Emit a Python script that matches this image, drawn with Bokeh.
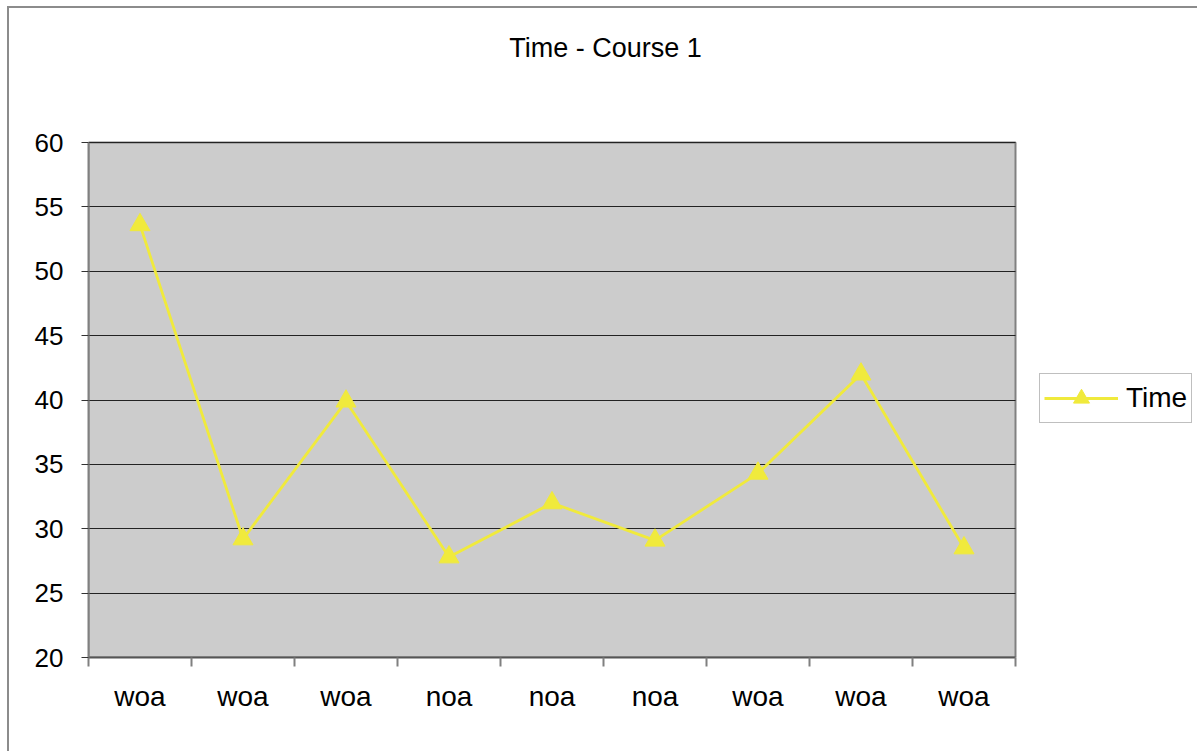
from bokeh.plotting import figure
from bokeh.models import FixedTicker, Legend, LegendItem, Range1d, ColumnDataSource, Label
from bokeh.embed import file_html
from bokeh.resources import INLINE

categories = ["woa", "woa", "woa", "noa", "noa", "noa", "woa", "woa", "woa"]
time_values = [53.6, 29.2, 39.9, 27.8, 32.0, 29.1, 34.3, 42.0, 28.5]
y_ticks = [20, 25, 30, 35, 40, 45, 50, 55, 60]
title_text = "Time - Course 1"

FONT = "Liberation Sans"
YELLOW = "#F0EA3C"

n = len(categories)
xs = [i + 0.5 for i in range(n)]
src = ColumnDataSource(dict(x=xs, y=time_values))

# geometry (pixels)
W, H = 1190, 745
LEFT, BOTTOM = 79, 96
PLOT_W, PLOT_H = 927, 515           # size of the grey plot area
FRAME_W, FRAME_H = W - LEFT, H - BOTTOM
ymin, ymax = y_ticks[0], y_ticks[-1]

p = figure(width=W, height=H, output_backend="svg", toolbar_location=None,
           x_range=Range1d(0, n * FRAME_W / PLOT_W),
           y_range=Range1d(ymin, ymin + (ymax - ymin) * FRAME_H / PLOT_H),
           min_border_left=LEFT, min_border_top=0, min_border_right=0,
           min_border_bottom=BOTTOM)
p.styles = {"margin-left": "7px", "margin-top": "6px",
            "border-left": "2px solid #8c8c8c", "border-top": "2px solid #8c8c8c"}

p.background_fill_color = "white"
p.border_fill_color = "white"
p.outline_line_color = None

bg = p.quad(left=0, right=n, bottom=ymin, top=ymax, fill_color="#CCCCCC",
            line_color="#808080", line_width=2)
bg.level = "image"

line = p.line("x", "y", source=src, line_color=YELLOW, line_width=2.8)
marks = p.scatter("x", "y", source=src, marker="triangle", size=20,
                  fill_color=YELLOW, line_color=YELLOW)

# x axis: labels at category centers, tick marks (minor) at category boundaries
p.xaxis.ticker = FixedTicker(ticks=xs, minor_ticks=list(range(n + 1)))
p.xaxis.bounds = (0, n)
p.xaxis.major_label_overrides = {x: c for x, c in zip(xs, categories)}
p.xaxis.major_label_text_font = FONT
p.xaxis.major_label_text_font_size = "28px"
p.xaxis.major_label_text_color = "black"
p.xaxis.major_label_standoff = 14
p.xaxis.axis_line_color = "#555555"
p.xaxis.axis_line_width = 2
p.xaxis.major_tick_line_color = None
p.xaxis.minor_tick_line_color = "#808080"
p.xaxis.minor_tick_line_width = 2
p.xaxis.minor_tick_in = 0
p.xaxis.minor_tick_out = 9

p.yaxis.ticker = FixedTicker(ticks=y_ticks)
p.yaxis.bounds = (ymin, ymax)
p.yaxis.major_label_text_font = FONT
p.yaxis.major_label_text_font_size = "26px"
p.yaxis.major_label_text_color = "black"
p.yaxis.major_label_standoff = 18
p.yaxis.axis_line_color = "#808080"
p.yaxis.axis_line_width = 2
p.yaxis.major_tick_line_color = "#333333"
p.yaxis.major_tick_in = 0
p.yaxis.major_tick_out = 7
p.yaxis.minor_tick_line_color = None

p.xgrid.grid_line_color = None
p.ygrid.grid_line_color = "#222222"
p.ygrid.grid_line_width = 1
p.ygrid.bounds = (ymin, ymax)
p.ygrid.cross_bounds = (0, n)

title = Label(x=517, y=610, x_units="screen", y_units="screen", text=title_text,
              text_font=FONT, text_font_size="27px", text_color="black",
              text_align="center", text_baseline="middle")
p.add_layout(title)

legend = Legend(items=[LegendItem(label="Time", renderers=[line, marks])],
                location=(951, 234), orientation="vertical",
                label_text_font=FONT, label_text_font_size="28px",
                label_text_color="black",
                glyph_width=74, glyph_height=40, padding=3, margin=0,
                spacing=0, label_standoff=8,
                border_line_color="#808080", border_line_width=1,
                background_fill_alpha=1.0)
legend.padding = 4
p.add_layout(legend, "center")

open("out.html", "w").write(file_html(p, INLINE))
